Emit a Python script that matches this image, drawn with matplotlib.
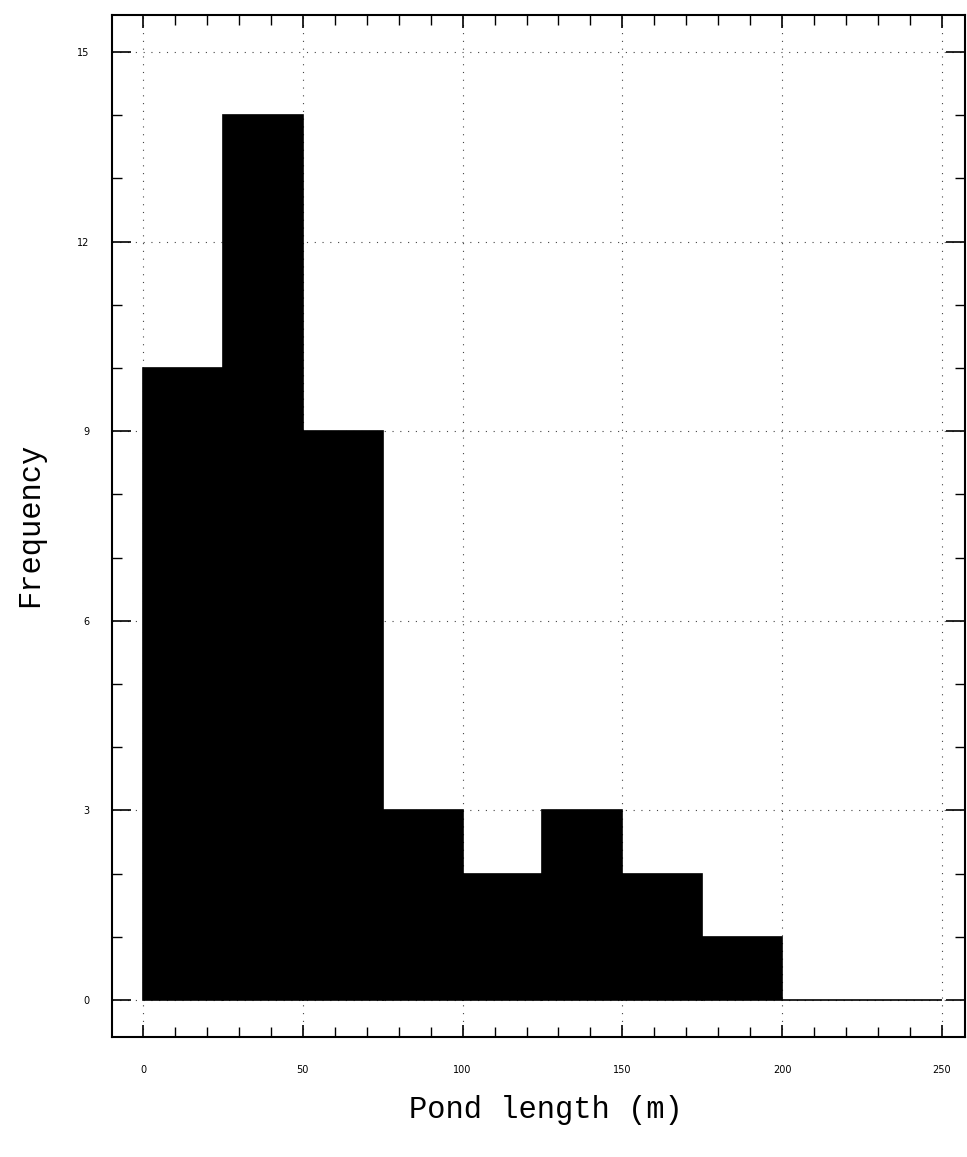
import matplotlib
matplotlib.use("Agg")
import matplotlib.pyplot as plt
from matplotlib.ticker import MultipleLocator

bin_edges = [0, 25, 50, 75, 100, 125, 150, 175, 200, 225, 250]
counts = [10, 14, 9, 3, 2, 3, 2, 1, 0, 0]
x_ticks = [0, 50, 100, 150, 200, 250]
y_ticks = [0, 3, 6, 9, 12, 15]

fig = plt.figure(figsize=(9.67, 11.57), dpi=100)
ax = fig.add_axes([112/967, 1 - 1037/1157, (965 - 112)/967, (1037 - 15)/1157])

ax.bar(bin_edges[:-1], counts, width=25, align='edge', color='black',
       edgecolor='black', linewidth=1.2, zorder=3)

ax.set_xlim(-9.7, 257.2)
ax.set_ylim(-0.585, 15.585)
ax.set_xticks(x_ticks)
ax.set_yticks(y_ticks)
ax.set_xticklabels([str(v) for v in x_ticks], fontsize=7, family='DejaVu Sans')
ax.set_yticklabels([str(v) for v in y_ticks], fontsize=7, family='DejaVu Sans')
ax.xaxis.set_minor_locator(MultipleLocator(10))
ax.yaxis.set_minor_locator(MultipleLocator(1))
ax.tick_params(axis='both', which='major', direction='in', top=True, right=True,
               length=14, width=1.2, pad=20)
ax.tick_params(axis='both', which='minor', direction='in', top=True, right=True,
               length=7, width=1.0)
ax.tick_params(axis='x', which='major', length=9)
ax.tick_params(axis='y', which='major', pad=16)

ax.grid(True, which='major', linestyle=(0, (1, 6)), color='#444444', linewidth=0.8, zorder=1)

for s in ax.spines.values():
    s.set_linewidth(1.5)

fig.text(546/967, 1 - 1110/1157, 'Pond length (m)', ha='center', va='center',
         fontsize=22, family='Liberation Mono')
fig.text(30/967, 1 - 525/1157, 'Frequency', ha='center', va='center', rotation=90,
         fontsize=22, family='Liberation Mono')

fig.savefig('out.png', dpi=100)
